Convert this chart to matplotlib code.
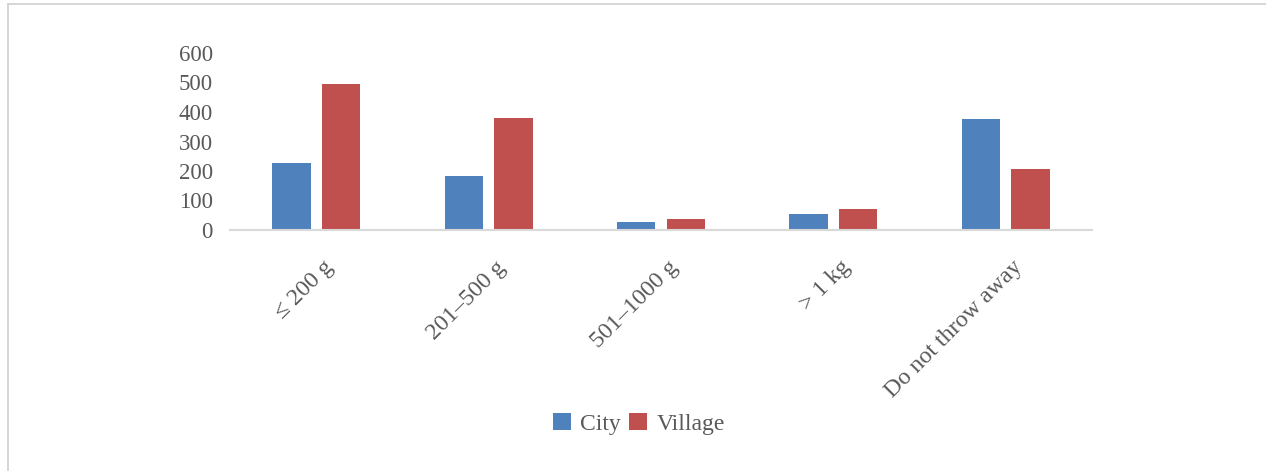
import matplotlib
matplotlib.use("Agg")
import matplotlib.pyplot as plt
import numpy as np
from matplotlib.lines import Line2D
from matplotlib.transforms import ScaledTranslation

categories = ["\u2264 200 g", "201\u2013500 g", "501\u20131000 g", "> 1 kg", "Do not throw away"]
city = [228, 183, 26, 54, 377]
village = [495, 381, 38, 71, 207]
y_ticks = [0, 100, 200, 300, 400, 500, 600]

plt.rcParams["font.family"] = ["Liberation Serif", "DejaVu Serif"]

W, H = 1266, 471
fig = plt.figure(figsize=(W / 100, H / 100), dpi=100)
ax = fig.add_axes([230 / W, (H - 230) / H, (1092 - 230) / W, (230 - 53) / H])

x = np.arange(len(categories))
bw = 0.223
off = 0.144
ax.bar(x - off, city, bw, color="#4F81BD", label="City", zorder=2)
ax.bar(x + off, village, bw, color="#C0504D", label="Village", zorder=2)

ax.set_xlim(-0.5, len(categories) - 0.5)
ax.set_ylim(0, 600)
ax.set_yticks(y_ticks)
ax.tick_params(axis="y", length=0, labelsize=16.5, labelcolor="#595959", pad=12.3)
ax.tick_params(axis="x", length=0, labelsize=17.3, labelcolor="#595959")
ax.set_xticks(x)
ax.set_xticklabels(categories, rotation=45, ha="right", rotation_mode="anchor")
shift = ScaledTranslation(6 / 100, -22 / 100, fig.dpi_scale_trans)
for lbl in ax.get_xticklabels():
    lbl.set_transform(lbl.get_transform() + shift)

for s in ["top", "right", "left"]:
    ax.spines[s].set_visible(False)
ax.spines["bottom"].set_color("#D9D9D9")
ax.spines["bottom"].set_linewidth(1.5)

leg = fig.legend(loc="center", bbox_to_anchor=(639 / W, (H - 424) / H), ncol=2,
                 frameon=False, fontsize=17, handlelength=0.75, handleheight=0.75,
                 handletextpad=0.4, columnspacing=0.35)
for t in leg.get_texts():
    t.set_color("#595959")

# outer frame lines
fig.add_artist(Line2D([8 / W, 1], [1 - 4 / H, 1 - 4 / H], color="#D0D0D0", lw=1.2))
fig.add_artist(Line2D([8 / W, 8 / W], [0, 1 - 4 / H], color="#D0D0D0", lw=1.2))

fig.savefig("out.png", dpi=100)
